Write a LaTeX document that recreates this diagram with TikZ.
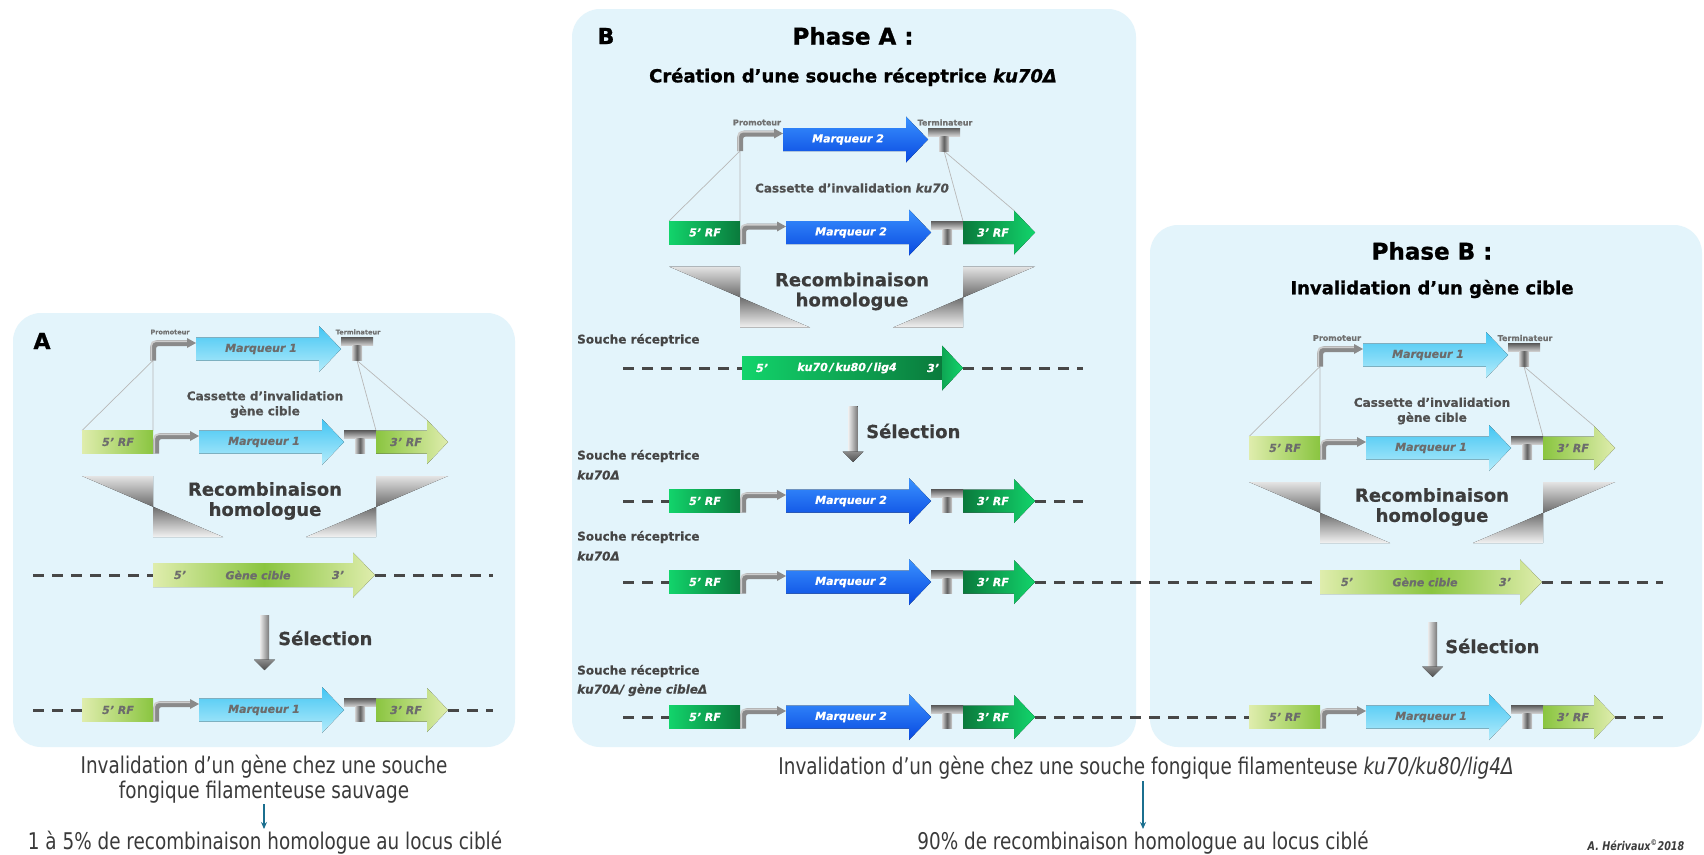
\documentclass[tikz,border=0pt]{standalone}
\usepackage{fontspec}
\setmainfont[BoldFeatures={FakeBold=0.5},BoldItalicFeatures={FakeBold=0.5}]{DejaVu Sans}
\newfontfamily\condfont[FakeStretch=0.8]{DejaVu Sans}
\newfontfamily\heavyfont[BoldFeatures={FakeBold=1.1},BoldItalicFeatures={FakeBold=1.1}]{DejaVu Sans}
\usetikzlibrary{arrows.meta}
\definecolor{panelbg}{HTML}{E3F4FB}
\definecolor{rflight}{HTML}{DFEDAD}
\definecolor{rfgreen}{HTML}{8AC540}
\definecolor{gbright}{HTML}{12D46B}
\definecolor{gdark}{HTML}{0A7A3C}
\definecolor{mAtop}{HTML}{42C5F3}
\definecolor{mAbot}{HTML}{B4ECFB}
\definecolor{mBtop}{HTML}{3A92FF}
\definecolor{mBbot}{HTML}{0848E0}
\definecolor{txtgray}{HTML}{6C6C6C}
\definecolor{darktxt}{HTML}{3C3C3C}
\definecolor{casscol}{HTML}{505050}
\definecolor{souchecol}{HTML}{454545}
\definecolor{lblgray}{HTML}{707070}
\definecolor{dashcol}{HTML}{474747}
\definecolor{arrteal}{HTML}{1B6F8F}
\definecolor{promgray}{HTML}{8A8A8A}
\definecolor{promlight}{HTML}{CDCDCD}
\definecolor{termdark}{HTML}{5E5E5E}
\definecolor{termlight}{HTML}{D2D2D2}
\definecolor{funtop}{HTML}{E4E4E4}
\definecolor{funmid}{HTML}{6C6C6C}
\definecolor{funbot}{HTML}{F2F2F2}
\definecolor{selL}{HTML}{EAEAEA}
\definecolor{selR}{HTML}{7A7A7A}
\definecolor{selhT}{HTML}{8C8C8C}
\definecolor{selhB}{HTML}{4E4E4E}
\definecolor{bottxt}{HTML}{3A3A3A}

\tikzset{
  schemeA/.style={
    rfL/.style={left color=rflight,right color=rfgreen},
    rfR/.style={left color=rfgreen,right color=rflight},
    mk/.style={top color=mAtop,bottom color=mAbot},
    intext/.style={font=\bfseries\itshape\fontsize{11}{13}\selectfont,text=txtgray}},
  schemeB/.style={
    rfL/.style={left color=gbright,right color=gdark},
    rfR/.style={left color=gdark,right color=gbright},
    mk/.style={top color=mBtop,bottom color=mBbot},
    intext/.style={font=\bfseries\itshape\fontsize{11}{13}\selectfont,text=white}},
  thinl/.style={draw=black!28, line width=0.7pt},
  promline/.style={draw=promgray, line width=6pt, rounded corners=5pt},
  promhl/.style={draw=promlight, line width=1.8pt, rounded corners=4pt},
  termbar/.style={top color=termdark, bottom color=termlight},
  termstem/.style={left color=termlight, right color=termlight, middle color=termdark},
  funnel/.style={top color=funtop, bottom color=funbot, middle color=funmid},
  dna/.style={draw=dashcol, line width=3pt, dash pattern=on 11pt off 8pt},
  recomb/.style={font=\bfseries\fontsize{18}{20}\selectfont, text=darktxt},
  selt/.style={font=\bfseries\fontsize{18}{20}\selectfont, text=darktxt, anchor=west, inner sep=0pt},
  casst/.style={font=\bfseries\fontsize{12}{15}\selectfont, text=casscol, align=center},
  souche/.style={font=\bfseries\fontsize{12}{14}\selectfont, text=souchecol, anchor=west, inner sep=0pt},
  promlbl/.style={font=\bfseries\fontsize{8}{9}\selectfont, text=lblgray, inner sep=0pt},
  title/.style={font=\heavyfont\bfseries\fontsize{23}{26}\selectfont, text=black},
  subtitle/.style={font=\heavyfont\bfseries\fontsize{18}{21}\selectfont, text=black},
  letter/.style={font=\heavyfont\bfseries\fontsize{22}{24}\selectfont, text=black},
  botf/.style={font=\condfont\fontsize{23}{26}\selectfont, text=bottxt},
  tealarrow/.style={draw=arrteal, line width=1.6pt, -{Stealth[length=7pt,width=6pt]}}
}

% promoter + marker + terminator, origin = left of 5'RF, row centre
\newcommand{\pmt}[2]{%
  \draw[promline] (74,11.5) -- (74,-6) -- (109,-6);
  \draw[promhl] (72.3,11.5) -- (72.3,-7.7) -- (109,-7.7);
  \fill[promgray] (108,-11) -- (117,-6) -- (108,-1) -- cycle;
  \fill[mk] (117,-11.5) -- (240,-11.5) -- (240,-23) -- (262,0) -- (240,23) -- (240,11.5) -- (117,11.5) -- cycle;
  \node[intext] (#2mk) at (182,0) {#1};
  \fill[termbar] (262,-11.5) rectangle (294,-3.5);
  \fill[termstem] (273,-3.5) rectangle (283,11.5);
}
% full row 5'RF - promoter - marker - terminator - 3'RF
\newcommand{\lowrow}[2]{%
  \fill[rfL] (0,-11.5) rectangle (71,11.5);
  \node[intext] (#2rfa) at (36,0) {5’ RF};
  \pmt{#1}{#2}
  \fill[rfR] (294,-11.5) -- (345,-11.5) -- (345,-22) -- (366,0) -- (345,22) -- (345,11.5) -- (294,11.5) -- cycle;
  \node[intext] (#2rfb) at (324,0) {3’ RF};
}
% cassette with top construct, links, funnel
\newcommand{\cassette}[6]{%
 \begin{scope}[shift={(#1,#2)}]
  \coordinate (#4pb) at (71,-81.5);
  \coordinate (#4tb) at (275,-81.5);
  \coordinate (#4a) at (0,-11.5);
  \coordinate (#4b) at (71,-11.5);
  \coordinate (#4c) at (294,-11.5);
  \coordinate (#4d) at (345,-22);
  \draw[thinl] (#4pb) -- (#4a) (#4pb) -- (#4b) (#4tb) -- (#4c) (#4tb) -- (#4d);
  \begin{scope}[shift={(-3,-93)}]\pmt{#3}{#4t}\end{scope}
  \lowrow{#3}{#4l}
  \node[promlbl] (#4prom) at (88,-110) {Promoteur};
  \node[promlbl] (#4term) at (276,-110) {Terminateur};
  \node[casst] (#4ct) at (183,#6) {#5};
  \fill[funnel] (0,34) -- (71,34) -- (71,95) -- (141,95) -- cycle;
  \fill[funnel] (366,34) -- (294,34) -- (294,95) -- (224,95) -- cycle;
  \node[recomb] (#4rc) at (183,47) {Recombinaison};
  \node[recomb] (#4ho) at (183,69) {homologue};
 \end{scope}}
% target gene arrow
\newcommand{\genearrow}[3]{%
 \begin{scope}[shift={(#1,#2)}]
  \fill[left color=rflight, right color=rflight, middle color=rfgreen] (71,-12) -- (271,-12) -- (271,-22.5) -- (293,0) -- (271,22.5) -- (271,12) -- (71,12) -- cycle;
  \node[intext] (#3a) at (98,0) {5’};
  \node[intext] (#3b) at (176,0) {Gène cible};
  \node[intext] (#3c) at (256,0) {3’};
 \end{scope}}
% selection arrow: x, top, tip, name
\newcommand{\selarrow}[4]{%
  \fill[left color=selL, right color=selR] ({#1-4.5},#2) rectangle ({#1+4.5},{#3-10});
  \fill[top color=selhT, bottom color=selhB] ({#1-10.5},{#3-10.5}) -- ({#1+10.5},{#3-10.5}) -- (#1,#3) -- cycle;
  \coordinate (#4) at (#1,#3);
}

\begin{document}
\begin{tikzpicture}[x=1pt,y=-1pt]
\useasboundingbox (0,0) rectangle (1704,854);
\fill[white] (0,0) rectangle (1704,854);

% panels
\fill[panelbg, rounded corners=28pt] (13,313) rectangle (515,747);
\fill[panelbg, rounded corners=28pt] (572,9) rectangle (1136,747);
\fill[panelbg, rounded corners=28pt] (1150,225) rectangle (1702,747);

% DNA dashed lines
\draw[dna] (33,575) -- (153,575);
\draw[dna] (375,575) -- (493,575);
\draw[dna] (33,710) -- (82,710);
\draw[dna] (448,710) -- (493,710);
\draw[dna] (623,368) -- (742,368);
\draw[dna] (963,368) -- (1083,368);
\draw[dna] (623,501) -- (669,501);
\draw[dna] (1035,501) -- (1083,501);
\draw[dna] (623,582) -- (669,582);
\draw[dna] (1035,582) -- (1320,582);
\draw[dna] (1542,582) -- (1663,582);
\draw[dna] (623,717) -- (669,717);
\draw[dna] (1035,717) -- (1249,717);
\draw[dna] (1615,717) -- (1663,717);

% ---------------- Panel A
\node[letter] (labA) at (42,341) {A};
\begin{scope}[schemeA, promlbl/.style={font=\bfseries\fontsize{6.5}{7}\selectfont, text=lblgray, inner sep=0pt}]
  \cassette{82}{442}{Marqueur 1}{pa}{Cassette d’invalidation\\gène cible}{-37.5}
  \genearrow{82}{575}{pag}
  \selarrow{264.5}{615}{670}{pasel}
  \node[selt] (pasl) at (278,638) {Sélection};
  \begin{scope}[shift={(82,710)}]\lowrow{Marqueur 1}{pab}\end{scope}
\end{scope}

% ---------------- Phase A
\node[letter] (labB) at (606,36) {B};
\node[title] (phA) at (853,36) {Phase A :};
\node[subtitle] (phAs) at (853,77) {Création d’une souche réceptrice \textit{ku70Δ}};
\begin{scope}[schemeB]
  \cassette{669}{232.5}{Marqueur 2}{pb}{Cassette d’invalidation \textit{ku70}}{-44.5}
  \begin{scope}[shift={(669,368)}]
    \fill[left color=gbright, right color=gdark] (73,-11.5) rectangle (273,11.5);
    \fill[left color=gdark!50!gbright, right color=gbright] (273,-22.5) -- (294,0) -- (273,22.5) -- cycle;
    \node[intext] (kua) at (93,0) {5’};
    \node[intext] (kub) at (178,0) {ku70\,/\,ku80\,/\,lig4};
    \node[intext] (kuc) at (264,0) {3’};
  \end{scope}
  \selarrow{853}{406}{462}{pbsel}
  \node[selt] (pbsl) at (866,431) {Sélection};
  \begin{scope}[shift={(669,501)}]\lowrow{Marqueur 2}{pr3}\end{scope}
  \begin{scope}[shift={(669,582)}]\lowrow{Marqueur 2}{pr4}\end{scope}
  \begin{scope}[shift={(669,717)}]\lowrow{Marqueur 2}{pr5}\end{scope}
\end{scope}
\node[souche] (s1) at (577,340) {Souche réceptrice};
\node[souche] (s2) at (577,456) {Souche réceptrice};
\node[souche] (s2k) at (577,475) {\textit{ku70Δ}};
\node[souche] (s3) at (577,537) {Souche réceptrice};
\node[souche] (s3k) at (577,556) {\textit{ku70Δ}};
\node[souche] (s4) at (577,671) {Souche réceptrice};
\node[souche] (s4k) at (577,690) {\textit{ku70Δ/ gène cibleΔ}};

% ---------------- Phase B
\node[title] (phB) at (1432,251) {Phase B :};
\node[subtitle] (phBs) at (1432,289) {Invalidation d’un gène cible};
\begin{scope}[schemeA]
  \cassette{1249}{448}{Marqueur 1}{pc}{Cassette d’invalidation\\gène cible}{-37}
  \genearrow{1249}{582}{pcg}
  \selarrow{1432.5}{622}{677}{pcsel}
  \node[selt] (pcsl) at (1445,646) {Sélection};
  \begin{scope}[shift={(1249,717)}]\lowrow{Marqueur 1}{pcb}\end{scope}
\end{scope}

% ---------------- bottom texts
\node[botf] (ta1) at (264,767) {Invalidation d’un gène chez une souche};
\node[botf] (ta2) at (264,792) {fongique filamenteuse sauvage};
\node[botf] (ta3) at (265,843) {1 à 5\% de recombinaison homologue au locus ciblé};
\coordinate (aa1) at (264,804);
\coordinate (aa2) at (264,829);
\draw[tealarrow] (aa1) -- (aa2);
\node[botf] (tb1) at (1146,768) {Invalidation d’un gène chez une souche fongique filamenteuse \textit{ku70/ku80/lig4Δ}};
\node[botf] (tb3) at (1143,843) {90\% de recombinaison homologue au locus ciblé};
\coordinate (ab1) at (1143,781);
\coordinate (ab2) at (1143,829);
\draw[tealarrow] (ab1) -- (ab2);
\node[font=\condfont\bfseries\itshape\fontsize{12}{14}\selectfont, text=darktxt] (sig) at (1636,845) {A. Hérivaux\textsuperscript{©}2018};
\end{tikzpicture}
\end{document}
